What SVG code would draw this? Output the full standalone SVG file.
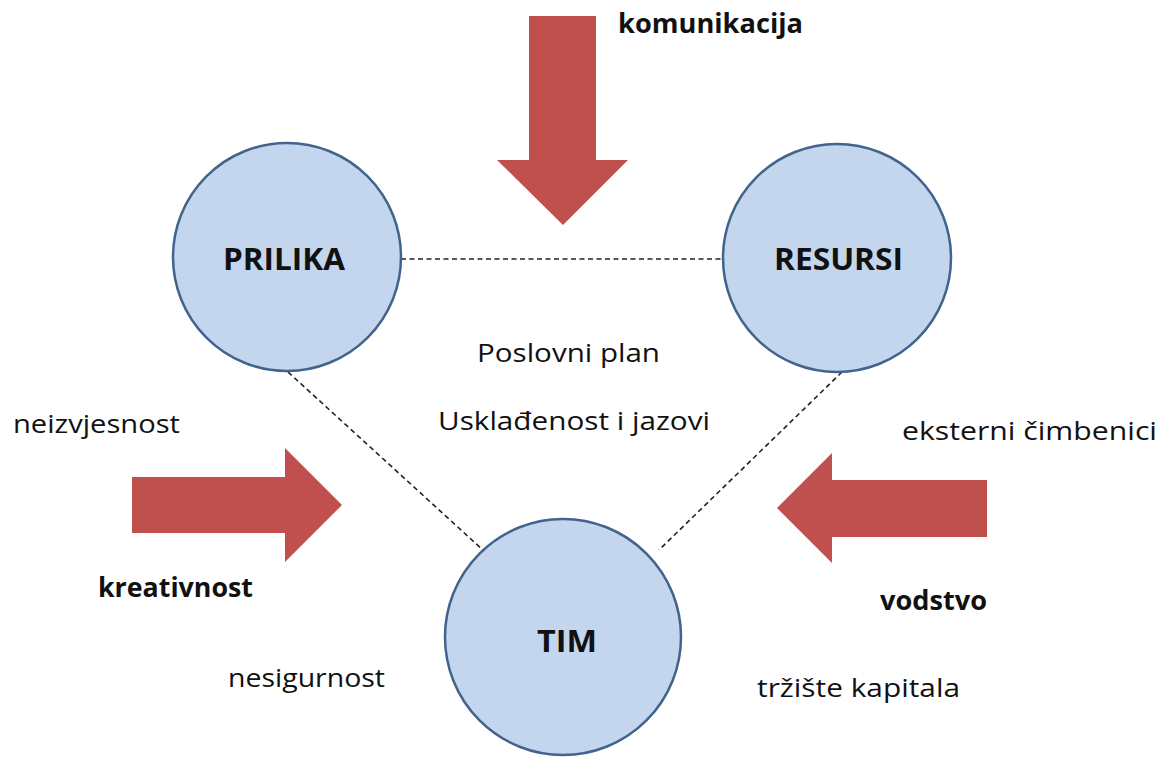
<svg xmlns="http://www.w3.org/2000/svg" width="1161" height="758" viewBox="0 0 1161 758">
<style>
.node{fill:#C3D6EE;stroke:#41638C;stroke-width:2.5}
.lbl{font-family:"Open Sans","Liberation Sans",sans-serif;fill:#111}
.b{font-weight:bold}
.arrow{fill:#C0504D}
.conn{stroke:#222;stroke-width:1.6;stroke-dasharray:5 3.5;fill:none}
</style>
<rect width="1161" height="758" fill="#fff"/>
<g id="connectors">
<line class="conn" x1="401" y1="259" x2="724" y2="259"/>
<line class="conn" x1="288" y1="372" x2="484" y2="551"/>
<line class="conn" x1="842" y1="372" x2="659" y2="550"/>
</g>
<g id="arrow-down"><polygon class="arrow" points="529,16 596,16 596,160 628,160 563,225 497,160 529,160"/></g>
<g id="arrow-right"><polygon class="arrow" points="132,477 285,477 285,448 342,505 285,562 285,533 132,533"/></g>
<g id="arrow-left"><polygon class="arrow" points="987,480 832,480 832,453 777,508 832,563 832,537 987,537"/></g>
<g id="prilika">
<circle class="node" cx="287" cy="257" r="114"/>
<text class="lbl b" x="223" y="270" font-size="30" textLength="122" lengthAdjust="spacingAndGlyphs">PRILIKA</text>
</g>
<g id="resursi">
<circle class="node" cx="837" cy="258" r="114"/>
<text class="lbl b" x="774" y="270" font-size="30" textLength="129" lengthAdjust="spacingAndGlyphs">RESURSI</text>
</g>
<g id="tim">
<circle class="node" cx="563" cy="637" r="118"/>
<text class="lbl b" x="537" y="652" font-size="30" textLength="60" lengthAdjust="spacingAndGlyphs">TIM</text>
</g>
<g id="labels">
<text class="lbl b" x="618" y="33" font-size="26" textLength="185" lengthAdjust="spacingAndGlyphs">komunikacija</text>
<text class="lbl" x="477" y="362" font-size="26" textLength="183" lengthAdjust="spacingAndGlyphs">Poslovni plan</text>
<text class="lbl" x="438" y="430" font-size="26" textLength="272" lengthAdjust="spacingAndGlyphs">Usklađenost i jazovi</text>
<text class="lbl" x="13" y="433" font-size="26" textLength="167" lengthAdjust="spacingAndGlyphs">neizvjesnost</text>
<text class="lbl" x="902" y="440" font-size="26" textLength="255" lengthAdjust="spacingAndGlyphs">eksterni čimbenici</text>
<text class="lbl b" x="98" y="597" font-size="26" textLength="155" lengthAdjust="spacingAndGlyphs">kreativnost</text>
<text class="lbl b" x="880" y="610" font-size="26" textLength="107" lengthAdjust="spacingAndGlyphs">vodstvo</text>
<text class="lbl" x="228" y="687" font-size="26" textLength="157" lengthAdjust="spacingAndGlyphs">nesigurnost</text>
<text class="lbl" x="757" y="697" font-size="26" textLength="203" lengthAdjust="spacingAndGlyphs">tržište kapitala</text>
</g>
</svg>
